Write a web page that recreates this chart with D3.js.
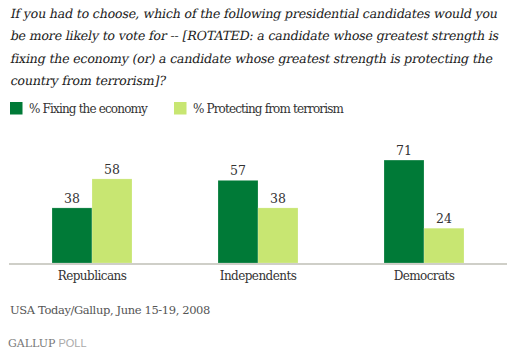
<!DOCTYPE html>
<html lang="en">
<head>
  <meta charset="UTF-8">
  <title>Gallup</title>
  <style>
    body { margin: 0; background: #fff; }
  </style>
</head>
<body>

  <svg id="svg" width="514" height="354"></svg>

  <script src="https://d3js.org/d3.v7.min.js"></script>
  <script>
    const titleLines = [
      'If you had to choose, which of the following presidential candidates would you',
      'be more likely to vote for -- [ROTATED: a candidate whose greatest strength is',
      'fixing the economy (or) a candidate whose greatest strength is protecting the',
      'country from terrorism]?'
    ]
    const categories = ['Republicans', 'Independents', 'Democrats']
    const seriesNames = ['% Fixing the economy', '% Protecting from terrorism']
    const economy = [38, 57, 71]
    const terrorism = [58, 38, 24]
    const colors = ['#007a37', '#c8e672']

    const data = categories.map((c, i) => ({ cat: c, values: [economy[i], terrorism[i]] }))

    const svg = d3.select('#svg')
    const serif = '"DejaVu Serif", serif'

    // squeeze a text node to a target width with letter-spacing
    function fit(node, width) {
      const w = node.getComputedTextLength()
      const n = node.textContent.length
      d3.select(node).style('letter-spacing', ((width - w) / n) + 'px')
    }

    // title: regular serif, slanted by hand
    const title = svg.append('g')
      .selectAll('text')
      .data(titleLines)
      .enter()
      .append('text')
      .attr('transform', (d, i) => `translate(10, ${18 + i * 22.3}) skewX(-11)`)
      .text(d => d)
      .style('font-family', serif)
      .style('font-size', '12.6px')
      .attr('fill', '#222')
    const w0 = title.nodes()[0].getComputedTextLength()
    title.style('letter-spacing', ((487 - w0) / titleLines[0].length) + 'px')

    // legend
    const legend = svg.append('g')
      .selectAll('g')
      .data(seriesNames)
      .enter()
      .append('g')
      .attr('transform', (d, i) => `translate(${[10, 174][i]}, 102)`)
    legend.append('rect')
      .attr('width', 12.5)
      .attr('height', 12.5)
      .attr('fill', (d, i) => colors[i])
    const legendText = legend.append('text')
      .attr('x', 19)
      .attr('y', 10.5)
      .text(d => d)
      .style('font-family', serif)
      .style('font-size', '12px')
      .attr('fill', '#333')
    fit(legendText.nodes()[0], 118)
    fit(legendText.nodes()[1], 150)

    const xScale = d3.scaleBand()
      .domain(categories)
      .range([9, 507])
    const inner = d3.scaleBand()
      .domain([0, 1])
      .range([0, 80])
    const yScale = d3.scaleLinear()
      .domain([0, 100])
      .range([263, 118])

    const groups = svg.append('g')
      .selectAll('g')
      .data(data)
      .enter()
      .append('g')
      .attr('transform', d => `translate(${xScale(d.cat) + xScale.bandwidth() / 2 - 40}, 0)`)

    groups.selectAll('rect')
      .data(d => d.values)
      .enter()
      .append('rect')
      .attr('x', (d, i) => inner(i))
      .attr('y', d => yScale(d))
      .attr('width', inner.bandwidth())
      .attr('height', d => yScale(0) - yScale(d))
      .attr('fill', (d, i) => colors[i])
      .attr('stroke', '#fff')
      .attr('stroke-opacity', 0.35)
      .attr('stroke-width', 0.6)

    groups.selectAll('text')
      .data(d => d.values)
      .enter()
      .append('text')
      .attr('x', (d, i) => inner(i) + inner.bandwidth() / 2)
      .attr('y', d => yScale(d) - 5)
      .attr('text-anchor', 'middle')
      .text(d => d)
      .style('font-family', serif)
      .style('font-size', '12.5px')
      .attr('fill', '#333')

    // baseline
    svg.append('line')
      .attr('x1', 9)
      .attr('x2', 507)
      .attr('y1', yScale(0) + 1)
      .attr('y2', yScale(0) + 1)
      .attr('stroke', '#cfcfc8')
      .attr('stroke-width', 2)

    const xAxis = svg.append('g')
      .attr('transform', `translate(0, ${yScale(0) + 2})`)
      .call(d3.axisBottom(xScale).tickSize(0).tickPadding(6))
    xAxis.select('.domain').remove()
    xAxis.selectAll('text')
      .style('font-family', serif)
      .style('font-size', '12px')
      .attr('fill', '#333')
    xAxis.selectAll('text').each(function () { fit(this, this.getComputedTextLength() * 0.92) })

    const source = svg.append('text')
      .attr('x', 10)
      .attr('y', 314)
      .text('USA Today/Gallup, June 15-19, 2008')
      .style('font-family', serif)
      .style('font-size', '11.5px')
      .attr('fill', '#555')
    fit(source.node(), 200)

    const brand = svg.append('text')
      .attr('x', 8)
      .attr('y', 347)
      .style('font-size', '11px')
    brand.append('tspan')
      .text('GALLUP')
      .style('font-family', serif)
      .attr('fill', '#777')
    brand.append('tspan')
      .attr('dx', 3)
      .text('POLL')
      .style('font-family', '"Liberation Sans", Arial, sans-serif')
      .attr('fill', '#aaa')
  </script>
</body>
</html>
